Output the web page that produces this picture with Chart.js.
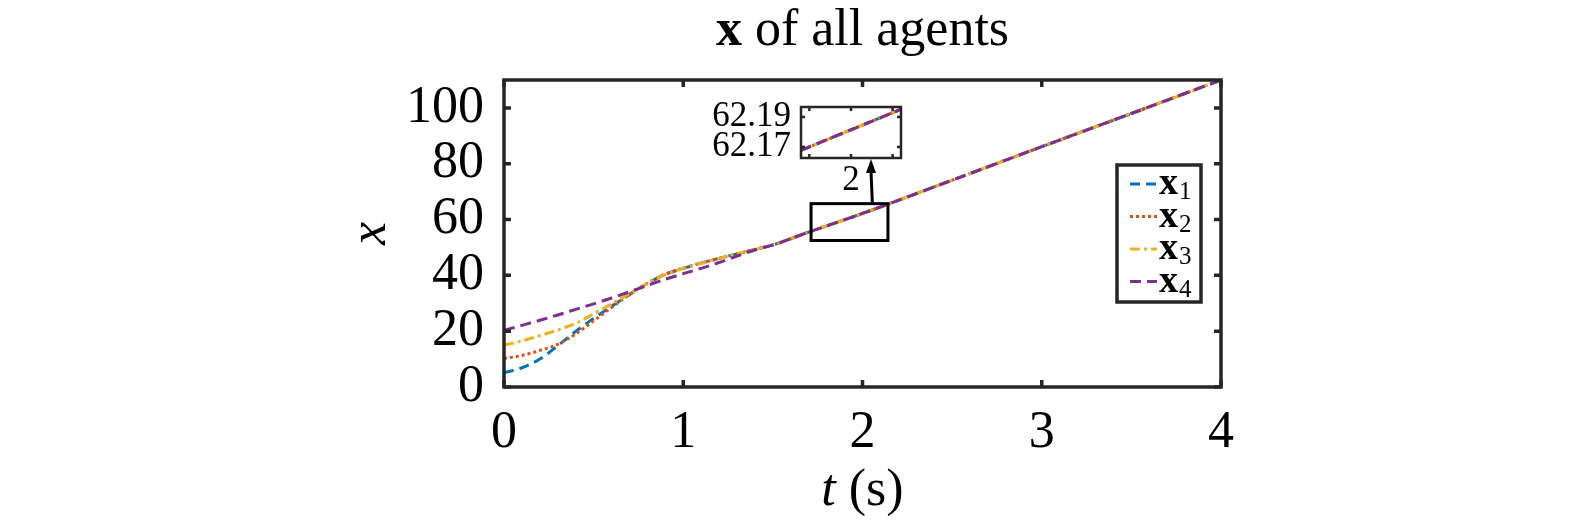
<!DOCTYPE html>
<html><head><meta charset="utf-8">
<script src="https://cdn.jsdelivr.net/npm/chart.js@4.4.1/dist/chart.umd.min.js"></script>
<style>
html,body{margin:0;padding:0;background:#fff;overflow:hidden;}
#wrap{position:relative;width:1575px;height:522px;}
#main{position:absolute;left:0;top:0;}
#inset{position:absolute;left:690px;top:50px;}
</style></head><body>
<div id="wrap"><canvas id="main" width="1575" height="522"></canvas><canvas id="inset" width="220" height="150"></canvas></div>
<script>
// ---------- data ----------
const times  = [0,0.1,0.2,0.3,0.4,0.5,0.6,0.7,0.8,0.9,1.0,1.1,1.2,1.3,1.4,1.5,1.7,2,2.5,3,3.5,4];
const agent1 = [5.1,6.9,10.0,14.8,19.9,24.6,28.9,33.1,37.1,40.4,42.5,44.4,46.1,47.7,49.3,50.9,55.5,62.18,74.1,86.1,98.0,110];
const agent2 = [10.2,11.3,13.1,15.3,19.0,23.7,28.5,33.2,37.2,40.5,42.6,44.4,46.1,47.7,49.3,50.9,55.5,62.18,74.1,86.1,98.0,110];
const agent3 = [15.0,16.5,18.4,20.4,22.8,26.2,29.8,33.4,37.1,40.3,42.4,44.3,46.1,47.7,49.3,50.9,55.5,62.18,74.1,86.1,98.0,110];
const agent4 = [20.3,22.1,23.9,25.8,27.8,29.8,31.9,34.1,36.4,38.6,40.6,42.5,44.6,46.9,49.1,50.9,55.5,62.18,74.1,86.1,98.0,110];
const seriesLabels = ['1','2','3','4'];
const xTickValues = [0,1,2,3,4];
const yTickValues = [0,20,40,60,80,100];
const xRange = [0,4];
const yRange = [0,110];
// inset (zoom on t = 2)
const insetTimes  = [1.9994,2.0006];
const insetAgent1 = [62.1678,62.1952];
const insetAgent2 = [62.1678,62.1952];
const insetAgent3 = [62.1678,62.1952];
const insetAgent4 = [62.1678,62.1952];
const insetXTicks = [1.9995,2,2.0005];
const insetXTickLabels = ['','2',''];
const insetYTicks = [62.17,62.19];
const insetXRange = [1.9994,2.0006];
const insetYRange = [62.1627,62.1967];
// zoom rectangle on the main axes (data units)
const zoomT = [1.713,2.142];
const zoomX = [52.5,65.7];

// ---------- styles ----------
const FONT = '"Liberation Serif","Times New Roman",serif';
const AX = '#262626';
const FS = 52;
const colors = ['#0072BD','#D95319','#EDB120','#7E2F8E'];
const dashes = [[10,6],[3,3],[10,4,3,4],[11,6]];

function mkSets(arrs, xs){
  return arrs.map((a,i)=>({
    label:'x'+seriesLabels[i],
    data:xs.map((t,j)=>({x:t,y:a[j]})),
    borderColor:colors[i], borderWidth:3, borderDash:dashes[i],
    pointRadius:0, fill:false, cubicInterpolationMode:'monotone',
    order:3-i
  }));
}

function frame(chart, lw, tl){
  const {ctx, chartArea:a, scales:{x,y}} = chart;
  ctx.save();
  ctx.strokeStyle = AX; ctx.lineWidth = lw; ctx.setLineDash([]);
  ctx.beginPath();
  x.ticks.forEach(t=>{const p=x.getPixelForValue(t.value);
    ctx.moveTo(p,a.bottom);ctx.lineTo(p,a.bottom-tl);ctx.moveTo(p,a.top);ctx.lineTo(p,a.top+tl);});
  y.ticks.forEach(t=>{const p=y.getPixelForValue(t.value);
    ctx.moveTo(a.left,p);ctx.lineTo(a.left+tl,p);ctx.moveTo(a.right,p);ctx.lineTo(a.right-tl,p);});
  ctx.stroke();
  ctx.strokeRect(a.left,a.top,a.right-a.left,a.bottom-a.top);
  ctx.restore();
}

// ---------- inset chart ----------
const INSET_LEFT = 690, INSET_TOP = 50;
const insetChart = new Chart(document.getElementById('inset'),{
  type:'line',
  data:{datasets:mkSets([insetAgent1,insetAgent2,insetAgent3,insetAgent4], insetTimes)},
  options:{
    responsive:false, animation:false, devicePixelRatio:1,
    layout:{padding:{left:0,top:57,right:9,bottom:0}},
    plugins:{legend:{display:false},tooltip:{enabled:false}},
    scales:{
      x:{type:'linear',min:insetXRange[0],max:insetXRange[1],
        afterBuildTicks:s=>{s.ticks=insetXTicks.map(v=>({value:v}));},
        afterFit:s=>{s.height=42;},
        grid:{display:false,drawTicks:false},border:{display:false},
        ticks:{padding:2,color:'#000',font:{family:FONT,size:35},maxRotation:0,autoSkip:false,
          callback:(v,i)=>insetXTickLabels[i]}},
      y:{type:'linear',min:insetYRange[0],max:insetYRange[1],
        afterBuildTicks:s=>{s.ticks=insetYTicks.map(v=>({value:v}));},
        afterFit:s=>{s.width=111;},
        grid:{display:false,drawTicks:false},border:{display:false},
        ticks:{padding:10,color:'#000',font:{family:FONT,size:35},autoSkip:false,callback:v=>v.toFixed(2)}}
    }
  },
  plugins:[{id:'insetFrame',afterDatasetsDraw(c){frame(c,2.5,4);}}]
});

// ---------- main chart ----------
const decor = {
  id:'decor',
  afterDatasetsDraw(chart){
    const {ctx, chartArea:a, scales:{x,y}} = chart;
    frame(chart,3.5,7);
    ctx.save();
    // title
    ctx.fillStyle='#000'; ctx.textBaseline='alphabetic'; ctx.textAlign='left';
    ctx.font='bold '+FS+'px '+FONT; const w1=ctx.measureText('x').width;
    ctx.font=FS+'px '+FONT; const w2=ctx.measureText(' of all agents').width;
    let sx=(a.left+a.right)/2-(w1+w2)/2;
    ctx.font='bold '+FS+'px '+FONT; ctx.fillText('x',sx,45);
    ctx.font=FS+'px '+FONT; ctx.fillText(' of all agents',sx+w1,45);
    // x axis label
    ctx.font='italic '+FS+'px '+FONT; const t1=ctx.measureText('t').width;
    ctx.font=FS+'px '+FONT; const t2=ctx.measureText(' (s)').width;
    sx=(a.left+a.right)/2-(t1+t2)/2;
    ctx.font='italic '+FS+'px '+FONT; ctx.fillText('t',sx,505);
    ctx.font=FS+'px '+FONT; ctx.fillText(' (s)',sx+t1,505);
    // zoom rectangle
    ctx.strokeStyle='#000'; ctx.lineWidth=3; ctx.setLineDash([]);
    const rx0=x.getPixelForValue(zoomT[0]), rx1=x.getPixelForValue(zoomT[1]);
    const ry0=y.getPixelForValue(zoomX[1]), ry1=y.getPixelForValue(zoomX[0]);
    ctx.strokeRect(rx0,ry0,rx1-rx0,ry1-ry0);
    // arrow to inset
    const ia=insetChart.chartArea;
    const ax0=x.getPixelForValue(2.055), ay0=ry0;
    const ax1=INSET_LEFT+ia.left+0.7*(ia.right-ia.left), ay1=INSET_TOP+ia.bottom+1;
    ctx.beginPath(); ctx.moveTo(ax0,ay0); ctx.lineTo(ax1,ay1+12); ctx.stroke();
    ctx.fillStyle='#000'; ctx.beginPath();
    ctx.moveTo(ax1,ay1); ctx.lineTo(ax1-5,ay1+14); ctx.lineTo(ax1+5,ay1+14); ctx.closePath(); ctx.fill();
    // legend
    const lx=1117, ly=165, lw=84, lh=137;
    ctx.fillStyle='#fff'; ctx.fillRect(lx,ly,lw,lh);
    ctx.strokeStyle=AX; ctx.lineWidth=3.5; ctx.strokeRect(lx,ly,lw,lh);
    const rows=[184,216.5,249,281.5];
    chart.data.datasets.forEach((ds,i)=>{
      const yy=rows[i];
      ctx.strokeStyle=ds.borderColor; ctx.lineWidth=3; ctx.setLineDash(ds.borderDash);
      ctx.beginPath(); ctx.moveTo(1130,yy); ctx.lineTo(1157,yy); ctx.stroke();
      ctx.setLineDash([]);
      ctx.fillStyle='#000';
      ctx.font='bold 38px '+FONT; ctx.fillText('x',1159,yy+10);
      const wx=ctx.measureText('x').width;
      ctx.font='25px '+FONT; ctx.fillText(seriesLabels[i],1159+wx+1,yy+15);
    });
    ctx.restore();
  }
};

new Chart(document.getElementById('main'),{
  type:'line',
  data:{datasets:mkSets([agent1,agent2,agent3,agent4], times)},
  options:{
    responsive:false, animation:false, devicePixelRatio:1,
    layout:{padding:{left:0,top:80,right:354,bottom:0}},
    plugins:{legend:{display:false},tooltip:{enabled:false},title:{display:false}},
    scales:{
      x:{type:'linear',min:xRange[0],max:xRange[1],
        afterBuildTicks:s=>{s.ticks=xTickValues.map(v=>({value:v}));},
        afterFit:s=>{s.height=135;},
        grid:{display:false,drawTicks:false},border:{display:false},
        ticks:{padding:15,color:'#000',font:{family:FONT,size:FS},maxRotation:0,autoSkip:false}},
      y:{type:'linear',min:yRange[0],max:yRange[1],
        afterBuildTicks:s=>{s.ticks=yTickValues.map(v=>({value:v}));},
        afterFit:s=>{s.width=504;},
        grid:{display:false,drawTicks:false},border:{display:false},
        title:{display:true,text:'x',color:'#000',font:{family:FONT,size:FS,style:'italic',lineHeight:1},padding:{top:345,bottom:0}},
        ticks:{padding:20,color:'#000',font:{family:FONT,size:FS},autoSkip:false}}
    }
  },
  plugins:[decor]
});
</script>
</body></html>
